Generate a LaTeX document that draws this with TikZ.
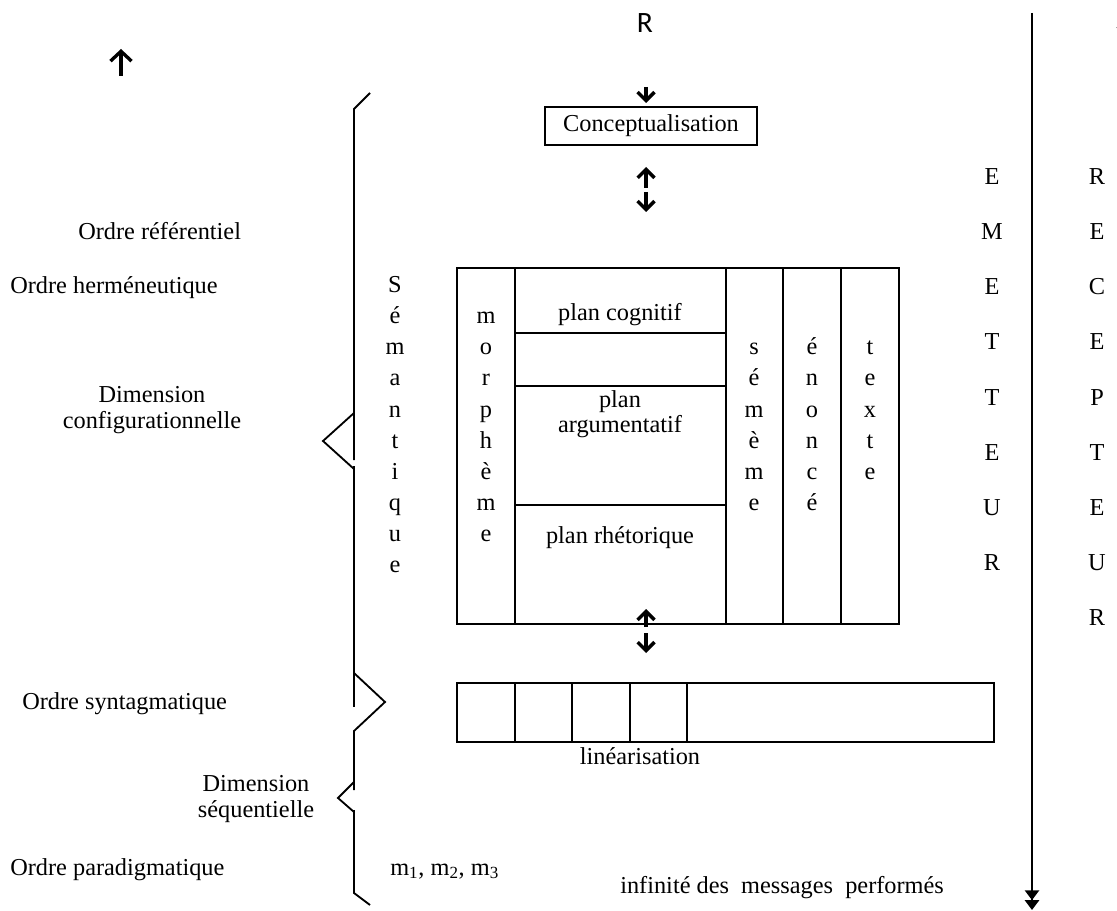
\documentclass[tikz,border=0pt]{standalone}
\usepackage{fontspec}
\setmainfont{Liberation Serif}
\newfontfamily\calfont{Carlito}
\usetikzlibrary{arrows.meta}

\begin{document}
\begin{tikzpicture}[x=0.025cm, y=-0.025cm,
  lbl/.style={inner sep=0pt, font=\fontsize{17.3}{17.8}\selectfont},
  ltr/.style={inner sep=0pt, anchor=base, font=\fontsize{17.3}{20}\selectfont},
  boite/.style={draw, line width=1.2pt},
  trait/.style={line width=1.3pt},
  fleche/.style={line width=2.4pt, -{Straight Barb[length=6pt, width=12pt]}},
  axe/.style={line width=1.8pt,
              -{Triangle[length=7pt, width=10pt, sep=0pt]Triangle[length=7pt, width=10pt]}}
]
\useasboundingbox (0,0) rectangle (1117,911);

% Top part
\node[lbl, font=\calfont\fontsize{21}{24}\selectfont, anchor=base] (R) at (645,33) {R};
\node[boite, minimum width=5.3cm, minimum height=0.95cm, inner sep=0pt,
      font=\fontsize{17.3}{20}\selectfont] (concept) at (651,126) {Conceptualisation};

\coordinate (f0a) at (121,76);  \coordinate (f0b) at (121,49);
\coordinate (f1a) at (646,87);  \coordinate (f1b) at (646,103);
\coordinate (f2a) at (646,188); \coordinate (f2b) at (646,167);
\coordinate (f3a) at (646,192); \coordinate (f3b) at (646,212);
\coordinate (f4a) at (646,627); \coordinate (f4b) at (646,609);
\coordinate (f5a) at (646,633); \coordinate (f5b) at (646,653);
\coordinate (f6a) at (1126,40); \coordinate (f6b) at (1126,18);
\draw[fleche, -{Straight Barb[length=7pt, width=15pt]}] (f0a) -- (f0b);
\draw[fleche] (f1a) -- (f1b);
\draw[fleche] (f2a) -- (f2b);
\draw[fleche] (f3a) -- (f3b);
\draw[fleche] (f4a) -- (f4b);
\draw[fleche] (f5a) -- (f5b);
\draw[fleche] (f6a) -- (f6b);

% Left axis with brackets
\draw[trait] (370,93) -- (354,109) -- (354,460);
\draw[trait] (354,413) -- (323,441) -- (354,469);
\draw[trait] (354,466) -- (354,707);
\draw[trait] (354,673) -- (385,702) -- (354,731) -- (354,790);
\draw[trait] (354,782) -- (338,798) -- (354,812);
\draw[trait] (354,810) -- (354,893) -- (370,905);

% Left labels
\node[lbl, anchor=base west] (oref) at (78,240) {Ordre référentiel};
\node[lbl, anchor=base west] (oherm) at (10,294) {Ordre herméneutique};
\node[lbl, anchor=base, align=center] (dconf) at (152,428) {Dimension\\configurationnelle};
\node[lbl, anchor=base west] (osynt) at (22,709) {Ordre syntagmatique};
\node[lbl, anchor=base, align=center] (dseq) at (256,817) {Dimension\\séquentielle};
\node[lbl, anchor=base west] (opara) at (10,875) {Ordre paradigmatique};
\node[lbl, anchor=base west] (mess) at (390,875) {m\textsubscript{1}, m\textsubscript{2}, m\textsubscript{3}};

% Main grid
\draw[boite] (457,268) rectangle (899,624);
\foreach \x in {515,726,783,841}
  \draw[boite] (\x,268) -- (\x,624);
\foreach \y in {333,386,505}
  \draw[boite] (515,\y) -- (726,\y);
\node[lbl, anchor=base] (pcog) at (620,321) {plan cognitif};
\node[lbl, anchor=base, align=center] (parg) at (620,433) {plan\\argumentatif};
\node[lbl, anchor=base] (prhet) at (620,543) {plan rhétorique};

% Vertical words
\foreach \l [count=\i from 0] in {S,é,m,a,n,t,i,q,u,e}
  \node[ltr] (sem\i) at (395,293+31*\i) {\l};
\foreach \l [count=\i from 1] in {m,o,r,p,h,è,m,e}
  \node[ltr] (mor\i) at (486,293+31*\i) {\l};
\foreach \l [count=\i from 2] in {s,é,m,è,m,e}
  \node[ltr] (seme\i) at (754,293+31*\i) {\l};
\foreach \l [count=\i from 2] in {é,n,o,n,c,é}
  \node[ltr] (enon\i) at (812,293+31*\i) {\l};
\foreach \l [count=\i from 2] in {t,e,x,t,e}
  \node[ltr] (txt\i) at (870,293+31*\i) {\l};

% Emetteur / recepteur
\foreach \l [count=\i from 0] in {E,M,E,T,T,E,U,R}
  \node[ltr] (emet\i) at (992,185+55*\i) {\l};
\foreach \l [count=\i from 0] in {R,E,C,E,P,T,E,U,R}
  \node[ltr] (recep\i) at (1097,185+55*\i) {\l};
\coordinate (axeH) at (1032,13);
\coordinate (axeB) at (1032,910);
\draw[axe] (axeH) -- (axeB);

% Linearisation
\draw[boite] (457,683) rectangle (994,742);
\foreach \x in {515,572,630,687}
  \draw[boite] (\x,683) -- (\x,742);
\node[lbl, anchor=base] (lin) at (640,764) {linéarisation};
\node[lbl, anchor=base west] (infi) at (620,893) {infinité des~~messages~~performés};
\end{tikzpicture}
\end{document}
